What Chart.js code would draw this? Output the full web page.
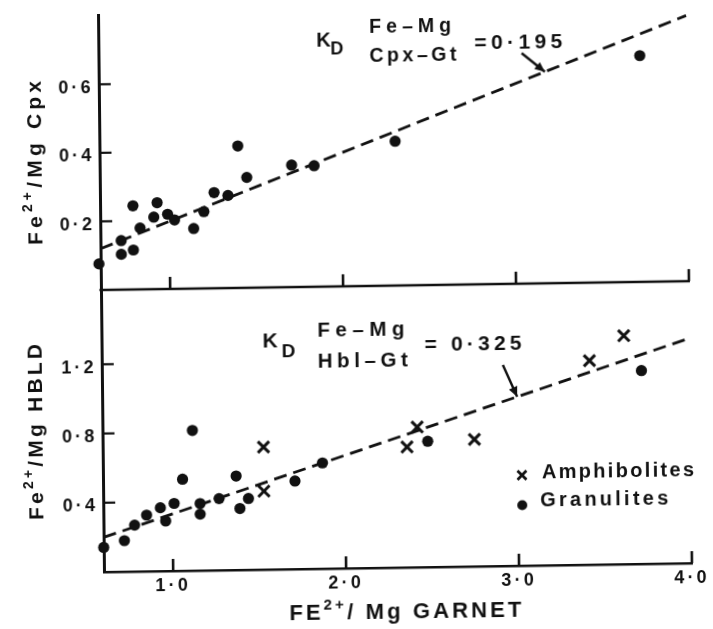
<!DOCTYPE html>
<html>
<head>
<meta charset="utf-8">
<script src="https://cdn.jsdelivr.net/npm/chart.js@4.4.1/dist/chart.umd.min.js"></script>
<style>
  html, body { margin: 0; padding: 0; background: #ffffff; }
  #wrap { width: 713px; height: 629px; overflow: hidden; background: #ffffff; }
  /* the scanned original is very slightly tilted; reproduce that tilt */
  #c { display: block; transform-origin: 98px 12px; transform: matrix(1, -0.015, 0.0107, 1, 0, 0); }
</style>
</head>
<body>
<div id="wrap"><canvas id="c" width="713" height="629"></canvas></div>
<script>
// ---------------- data ----------------
const xTickValues = [1, 2, 3, 4];
const xTickLabels = ['1·0', '2·0', '3·0', '4·0'];
const cpxTickValues = [0.2, 0.4, 0.6];
const cpxTickLabels = ['0·2', '0·4', '0·6'];
const hbldTickValues = [0.4, 0.8, 1.2];
const hbldTickLabels = ['0·4', '0·8', '1·2'];

// upper panel: Fe2+/Mg garnet vs Fe2+/Mg clinopyroxene (granulites)
const cpxGarnetX = [0.59, 0.72, 0.72, 0.79, 0.79, 0.83, 0.91, 0.93, 0.99, 1.03, 1.14, 1.20, 1.26, 1.34, 1.40, 1.45, 1.71, 1.84, 2.31, 3.73];
const cpxRatio   = [0.076, 0.143, 0.103, 0.115, 0.244, 0.179, 0.210, 0.252, 0.218, 0.201, 0.175, 0.224, 0.279, 0.270, 0.414, 0.322, 0.356, 0.353, 0.421, 0.660];

// lower panel: Fe2+/Mg garnet vs Fe2+/Mg hornblende
const granGarnetX = [0.60, 0.72, 0.78, 0.85, 0.93, 0.96, 1.01, 1.06, 1.12, 1.16, 1.16, 1.27, 1.37, 1.39, 1.44, 1.71, 1.87, 2.48, 3.72];
const granHbld    = [0.142, 0.179, 0.268, 0.325, 0.366, 0.289, 0.390, 0.529, 0.810, 0.387, 0.326, 0.414, 0.543, 0.355, 0.412, 0.509, 0.611, 0.727, 1.117];
const amphGarnetX = [1.53, 1.53, 2.36, 2.42, 2.75, 3.42, 3.62];
const amphHbld    = [0.708, 0.453, 0.696, 0.810, 0.734, 1.179, 1.320];

// K_D reference lines
const kdLineX     = [0.6, 4.0];
const kdCpxLineY  = [0.12, 0.775];
const kdHbldLineY = [0.20, 1.30];
// x values where the annotation arrows touch the lines
const kdArrowX = [3.18, 3.0];

// ---------------- styling ----------------
const INK = '#111111';
const FAM = '"Liberation Sans", Arial, Helvetica, sans-serif';
const TICK_SPACING = '3.2px';

const pts = (xs, ys) => xs.map((x, i) => ({ x: x, y: ys[i] }));
const labelFor = (vals, labels) => (v) => { const i = vals.findIndex(t => Math.abs(t - v) < 1e-9); return i >= 0 ? labels[i] : ''; };

// draws text made of [string, isSuperscript] parts, tracked out to a given overall width
function richText(ctx, parts, x, y, align, size, weight, fitWidth) {
  ctx.textBaseline = 'middle';
  ctx.textAlign = 'left';
  const fontOf = (sup) => `${weight} ${sup ? Math.round(size * 0.66) : size}px ${FAM}`;
  ctx.letterSpacing = '0px';
  let natural = 0, n = 0;
  parts.forEach(([t, sup]) => { ctx.font = fontOf(sup); natural += ctx.measureText(t).width; n += [...t].length; });
  const s = fitWidth ? Math.max(0, (fitWidth - natural) / Math.max(1, n - 1)) : 0;
  ctx.letterSpacing = s + 'px';
  const widths = parts.map(([t, sup]) => { ctx.font = fontOf(sup); return ctx.measureText(t).width; });
  const visual = widths.reduce((a, b) => a + b, 0) - s;
  let cx = align === 'center' ? x - visual / 2 : (align === 'right' ? x - visual : x);
  parts.forEach(([t, sup], i) => {
    ctx.font = fontOf(sup);
    ctx.fillText(t, cx, sup ? y - size * 0.38 : y);
    cx += widths[i];
  });
  ctx.letterSpacing = '0px';
}

function arrow(ctx, x0, y0, x1, y1) {
  ctx.lineWidth = 2.4;
  ctx.beginPath(); ctx.moveTo(x0, y0); ctx.lineTo(x1, y1); ctx.stroke();
  const a = Math.atan2(y1 - y0, x1 - x0);
  const L = 10, W = 4.5;
  ctx.beginPath();
  ctx.moveTo(x1, y1);
  ctx.lineTo(x1 - L * Math.cos(a) + W * Math.sin(a), y1 - L * Math.sin(a) - W * Math.cos(a));
  ctx.lineTo(x1 - L * Math.cos(a) - W * Math.sin(a), y1 - L * Math.sin(a) + W * Math.cos(a));
  ctx.closePath(); ctx.fill();
}

function lineYAt(xs, ys, xv) {
  const t = (xv - xs[0]) / (xs[1] - xs[0]);
  return ys[0] + t * (ys[1] - ys[0]);
}

const deco = {
  id: 'deco',
  beforeLayout(chart) { chart.ctx.letterSpacing = TICK_SPACING; },
  beforeDraw(chart) { chart.ctx.letterSpacing = TICK_SPACING; },
  afterDraw(chart) {
    const ctx = chart.ctx;
    const { x, yT, yB } = chart.scales;
    ctx.save();
    ctx.strokeStyle = INK; ctx.fillStyle = INK; ctx.lineCap = 'butt';

    // shared boundary line between the two panels
    ctx.lineWidth = 2.6;
    ctx.beginPath(); ctx.moveTo(x.left - 1.5, yT.bottom); ctx.lineTo(x.right + 1, yT.bottom); ctx.stroke();

    // inward tick marks
    for (const v of xTickValues) {
      const px = x.getPixelForValue(v);
      for (const base of [yT.bottom, x.top]) {
        ctx.beginPath(); ctx.moveTo(px, base); ctx.lineTo(px, base - 12); ctx.stroke();
      }
    }
    ctx.lineWidth = 2.2;
    for (const [sc, vals] of [[yT, cpxTickValues], [yB, hbldTickValues]]) {
      for (const v of vals) {
        const py = sc.getPixelForValue(v);
        ctx.beginPath(); ctx.moveTo(x.left, py); ctx.lineTo(x.left + 12, py); ctx.stroke();
      }
    }

    // axis titles
    ctx.save(); ctx.translate(34, 162); ctx.rotate(-Math.PI / 2);
    richText(ctx, [['Fe', false], ['2+', true], ['/Mg Cpx', false]], 0, 0, 'center', 21, 'bold', 164);
    ctx.restore();
    ctx.save(); ctx.translate(32, 431); ctx.rotate(-Math.PI / 2);
    richText(ctx, [['Fe', false], ['2+', true], ['/Mg HBLD', false]], 0, 0, 'center', 21, 'bold', 176);
    ctx.restore();
    richText(ctx, [['FE', false], ['2+', true], ['/ Mg GARNET', false]], 399, 617, 'center', 22, 'bold', 232);

    // K_D annotation, upper panel
    richText(ctx, [['K', false]], 316, 44, 'left', 20, 'bold', 0);
    richText(ctx, [['D', false]], 330, 53, 'left', 18, 'bold', 0);
    richText(ctx, [['Fe–Mg', false]], 369, 31.5, 'left', 19.5, 'bold', 82);
    richText(ctx, [['Cpx–Gt', false]], 369, 60.5, 'left', 19.5, 'bold', 87);
    richText(ctx, [['=0·195', false]], 474, 49, 'left', 21, 'bold', 88);
    {
      const tx = x.getPixelForValue(kdArrowX[0]);
      const ty = yT.getPixelForValue(lineYAt(kdLineX, kdCpxLineY, kdArrowX[0]));
      arrow(ctx, tx - 23, ty - 19, tx, ty);
    }

    // K_D annotation, lower panel
    richText(ctx, [['K', false]], 259, 344.5, 'left', 21, 'bold', 0);
    richText(ctx, [['D', false]], 278, 355, 'left', 19, 'bold', 0);
    richText(ctx, [['Fe–Mg', false]], 314, 334, 'left', 20.5, 'bold', 87);
    richText(ctx, [['Hbl–Gt', false]], 314, 365, 'left', 20.5, 'bold', 90);
    richText(ctx, [['= 0·325', false]], 421, 350.5, 'left', 21, 'bold', 97);
    {
      const tx = x.getPixelForValue(kdArrowX[1]);
      const ty = yB.getPixelForValue(lineYAt(kdLineX, kdHbldLineY, kdArrowX[1]));
      arrow(ctx, tx - 14, ty - 32, tx, ty);
    }

    // legend
    ctx.lineWidth = 2.8;
    const mx = 517, my1 = 481.5, my2 = 511.5;
    ctx.beginPath();
    ctx.moveTo(mx - 4.5, my1 - 4.5); ctx.lineTo(mx + 4.5, my1 + 4.5);
    ctx.moveTo(mx + 4.5, my1 - 4.5); ctx.lineTo(mx - 4.5, my1 + 4.5);
    ctx.stroke();
    ctx.beginPath(); ctx.arc(mx, my2, 5, 0, Math.PI * 2); ctx.fill();
    richText(ctx, [['Amphibolites', false]], 537, 479.5, 'left', 20, 'bold', 152);
    richText(ctx, [['Granulites', false]], 535, 507.5, 'left', 20, 'bold', 128);

    ctx.restore();
  }
};

const tickFont = { family: FAM, size: 18, weight: 'bold' };
const yAxisBase = (vals, labels) => ({
  type: 'linear',
  position: 'left',
  stack: 'panels',
  afterBuildTicks: (s) => { s.ticks = vals.map(v => ({ value: v })); },
  afterFit: (s) => { s.width = 98; },
  ticks: { callback: labelFor(vals, labels), font: tickFont, color: INK, padding: 5, labelOffset: 3.5, autoSkip: false },
  grid: { display: true, drawOnChartArea: false, drawTicks: false },
  border: { display: true, color: INK, width: 3 }
});

const chart = new Chart(document.getElementById('c').getContext('2d'), {
  type: 'scatter',
  data: {
    datasets: [
      { label: 'Granulites (Cpx–Gt)', data: pts(cpxGarnetX, cpxRatio), yAxisID: 'yT',
        pointStyle: 'circle', pointRadius: 5.6, backgroundColor: INK, borderColor: INK, borderWidth: 0, clip: false },
      { label: 'Amphibolites', data: pts(amphGarnetX, amphHbld), yAxisID: 'yB',
        pointStyle: 'crossRot', pointRadius: 8, borderColor: INK, backgroundColor: INK, borderWidth: 3, clip: false },
      { label: 'Granulites', data: pts(granGarnetX, granHbld), yAxisID: 'yB',
        pointStyle: 'circle', pointRadius: 5.6, backgroundColor: INK, borderColor: INK, borderWidth: 0, clip: false },
      { label: 'KD Cpx–Gt = 0.195', data: pts(kdLineX, kdCpxLineY), yAxisID: 'yT', showLine: true,
        borderColor: INK, borderWidth: 2.8, borderDash: [13, 7], pointRadius: 0, clip: false },
      { label: 'KD Hbl–Gt = 0.325', data: pts(kdLineX, kdHbldLineY), yAxisID: 'yB', showLine: true,
        borderColor: INK, borderWidth: 2.8, borderDash: [13, 7], pointRadius: 0, clip: false }
    ]
  },
  options: {
    responsive: false,
    animation: false,
    devicePixelRatio: 1,
    layout: { padding: { left: 0, right: 27, top: 12, bottom: 0 } },
    plugins: { legend: { display: false }, tooltip: { enabled: false } },
    scales: {
      x: {
        type: 'linear', position: 'bottom', min: 0.6, max: 4.0,
        afterBuildTicks: (s) => { s.ticks = xTickValues.map(v => ({ value: v })); },
        afterFit: (s) => { s.height = 57; },
        ticks: { callback: labelFor(xTickValues, xTickLabels), font: tickFont, color: INK, padding: 4, maxRotation: 0, autoSkip: false },
        grid: { display: true, drawOnChartArea: false, drawTicks: false },
        border: { display: true, color: INK, width: 2.6 }
      },
      yB: Object.assign(yAxisBase(hbldTickValues, hbldTickLabels), { min: 0, max: 1.63, stackWeight: 284 }),
      yT: Object.assign(yAxisBase(cpxTickValues, cpxTickLabels), { min: 0, max: 0.8, stackWeight: 276 })
    }
  },
  plugins: [deco]
});
</script>
</body>
</html>
